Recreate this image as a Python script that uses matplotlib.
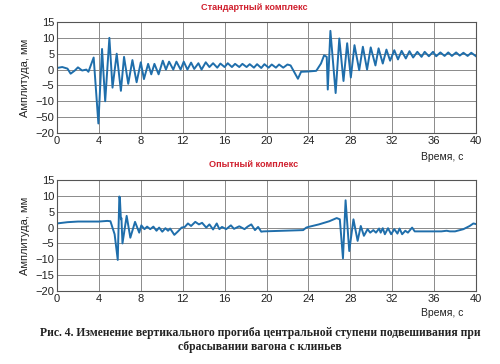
import matplotlib
matplotlib.use("Agg")
import matplotlib.pyplot as plt

plt.rcParams['font.family'] = ['Liberation Sans', 'DejaVu Sans']

# ---- data: Standard complex (top) ----
t_std = [0, 0.5, 1.0, 1.3, 1.7, 2.0, 2.4, 2.8, 3.0, 3.5, 3.95, 4.3, 4.6, 5.0, 5.3, 5.7, 6.1,
         6.4, 6.8, 7.2, 7.6, 8.0, 8.3, 8.7, 9.0, 9.3, 9.7, 10.1, 10.4, 10.7, 11.1, 11.4, 11.8,
         12.1, 12.45, 12.8, 13.1, 13.5, 13.8, 14.2, 14.55, 14.9, 15.3, 15.6, 16.0, 16.3, 16.7,
         17.0, 17.4, 17.7, 18.1, 18.4, 18.8, 19.1, 19.5, 19.8, 20.2, 20.5, 20.9, 21.2, 21.6,
         22.0, 22.3, 23.0, 23.3, 24.0, 24.75, 25.2, 25.5, 25.75, 25.85, 26.1, 26.6, 26.95,
         27.35, 27.7, 28.05, 28.4, 28.85, 29.2, 29.6, 29.95, 30.4, 30.7, 31.1, 31.45, 31.8,
         32.2, 32.55, 32.9, 33.3, 33.65, 34.0, 34.4, 34.8, 35.1, 35.5, 35.9, 36.2, 36.6, 37.0,
         37.35, 37.7, 38.1, 38.45, 38.8, 39.2, 39.55, 40.0]
y_std = [0.5, 0.8, 0.3, -1.3, -0.3, 0.7, -0.3, 0.0, -0.7, 3.8, -17.0, 6.5, -10.0, 10.0, -5.7, 5.0, -6.7,
         4.0, -4.5, 3.0, -4.0, 2.3, -3.0, 1.8, -1.5, 1.8, -1.5, 2.8, 0.0, 2.5, 0.0, 2.5, 0.0,
         2.5, 0.0, 2.2, 0.2, 2.0, 0.0, 2.3, 0.8, 2.0, 0.6, 1.9, 0.8, 2.0, 0.8, 1.8,
         0.8, 1.8, 0.8, 1.7, 0.6, 1.7, 0.5, 1.7, 0.6, 1.6, 0.6, 1.6, 0.6, 1.6,
         1.3, -2.9, -0.7, -0.6, -0.4, 1.9, 4.5, 4.0, -6.3, 12.2, -7.4, 9.8,
         -3.6, 8.3, -2.5, 7.7, -0.2, 7.2, 0.0, 7.0, 1.3, 6.7, 1.9, 6.3, 2.8,
         6.1, 3.2, 5.9, 3.5, 5.8, 3.8, 5.6, 4.0, 5.6, 4.2, 5.6, 4.2, 5.4, 4.3,
         5.4, 4.3, 5.4, 4.4, 5.3, 4.3, 5.3, 4.2]

# ---- data: Experimental complex (bottom) ----
t_exp = [0, 1.0, 2.0, 4.0, 4.8, 5.1, 5.5, 5.8, 5.95, 6.0, 6.1, 6.15, 6.25, 6.65, 7.0, 7.45, 7.85,
         8.05, 8.35, 8.6, 8.9, 9.2, 9.5, 9.75, 10.05, 10.35, 10.6, 10.8, 11.2, 11.55, 11.9,
         12.2, 12.5, 12.8, 13.2, 13.55, 13.85, 14.25, 14.55, 14.9, 15.25, 15.5, 15.75, 16.15,
         16.6, 16.9, 17.4, 17.9, 18.2, 18.55, 18.9, 19.2, 19.5, 19.7, 23.5, 23.8, 24.0, 25.0,
         26.0, 26.7, 27.0, 27.3, 27.55, 27.9, 28.3, 28.7, 29.0, 29.3, 29.65, 29.9, 30.2, 30.45,
         30.75, 30.9, 31.1, 31.3, 31.6, 31.9, 32.2, 32.5, 32.7, 32.95, 33.25, 33.5, 33.9, 34.15,
         36.7, 37.2, 37.5, 38.0, 38.8, 39.4, 39.75, 40.0]
y_exp = [1.3, 1.7, 1.9, 1.9, 2.1, 2.0, -2.1, -10.2, 9.8, 9.5, 2.6, 3.0, -5.0, 3.7, -3.2, 1.8, -1.6,
         0.7, -0.5, 0.3, -0.5, 0.3, -1.0, 0.0, -1.3, -0.2, -1.0, -0.3, -2.3, -1.2, 0.0,
         0.2, 1.3, 0.5, 1.8, 1.0, 1.5, 0.0, 1.0, -0.6, 1.3, -0.5, 0.2, -0.5,
         0.7, -0.4, 0.4, -0.5, 0.3, 1.0, -0.8, 0.2, -1.3, -1.2, -0.8, 0.0, 0.2, 1.0,
         2.0, 3.0, 2.6, -9.7, 8.6, -7.4, 2.6, -4.2, 0.5, -2.6, -0.5, -1.6, -0.8, -1.6,
         -0.3, -1.6, -0.2, -2.1, -0.2, -2.1, -0.5, -1.9, -0.3, -2.1, -1.0, -1.6, 0.0, -1.2,
         -1.2, -1.0, -1.2, -1.2, -0.5, 0.5, 1.3, 1.1]

x_ticks = [0, 4, 8, 12, 16, 20, 24, 28, 32, 36, 40]
y_ticks = [15, 10, 5, 0, -5, -10, -15, -20]
y_labels_top = ["15", "10", "5", "0", "\u22125", "\u221210", "\u221250", "\u221220"]
y_labels_bot = ["15", "10", "5", "0", "\u22125", "\u221210", "\u221215", "\u221220"]

title_top = "Стандартный комплекс"
title_bot = "Опытный комплекс"
ylabel = "Амплитуда, мм"
xlabel = "Время, с"
caption = ("Рис. 4. Изменение вертикального прогиба центральной ступени подвешивания при\n"
           "сбрасывании вагона с клиньев")

LINE = "#1f6eab"
W, H = 500, 364
fig = plt.figure(figsize=(W / 100, H / 100), dpi=100)
fig.patch.set_facecolor("white")


def make_ax(top_px, bottom_px, t, y, ylabels, title, title_y, xlab_y):
    ax = fig.add_axes([57 / W, 1 - bottom_px / H, (476 - 57) / W, (bottom_px - top_px) / H])
    ax.plot(t, y, color=LINE, lw=1.4, solid_joinstyle="round")
    ax.set_xlim(0, 40)
    ax.set_ylim(-20, 15)
    ax.set_xticks(x_ticks)
    ax.set_xticklabels([str(v) for v in x_ticks])
    ax.set_yticks(y_ticks)
    ax.set_yticklabels(ylabels)
    ax.grid(True, color="#8a8a8a", lw=0.7)
    ax.set_axisbelow(True)
    ax.tick_params(length=0, labelsize=8, colors="#222222", pad=2)
    for s in ax.spines.values():
        s.set_color("#555555")
        s.set_linewidth(0.8)
    ax.set_ylabel(ylabel, fontsize=8, color="#222222", labelpad=4)
    fig.text(254 / W, 1 - title_y / H, title, color="#d0202e", fontsize=6.6,
             fontweight="bold", ha="center", va="center")
    fig.text(442 / W, 1 - xlab_y / H, xlabel, color="#222222", fontsize=7.5,
             ha="center", va="center")
    return ax


make_ax(22, 133, t_std, y_std, y_labels_top, title_top, 7, 157)
make_ax(180, 291, t_exp, y_exp, y_labels_bot, title_bot, 165, 313)

fig.text(260 / W, 1 - 340 / H, caption, ha="center", va="center", fontsize=8.4,
         family="Liberation Serif", fontweight="bold", color="#222222", linespacing=1.2)

fig.savefig("out.png", dpi=100)
